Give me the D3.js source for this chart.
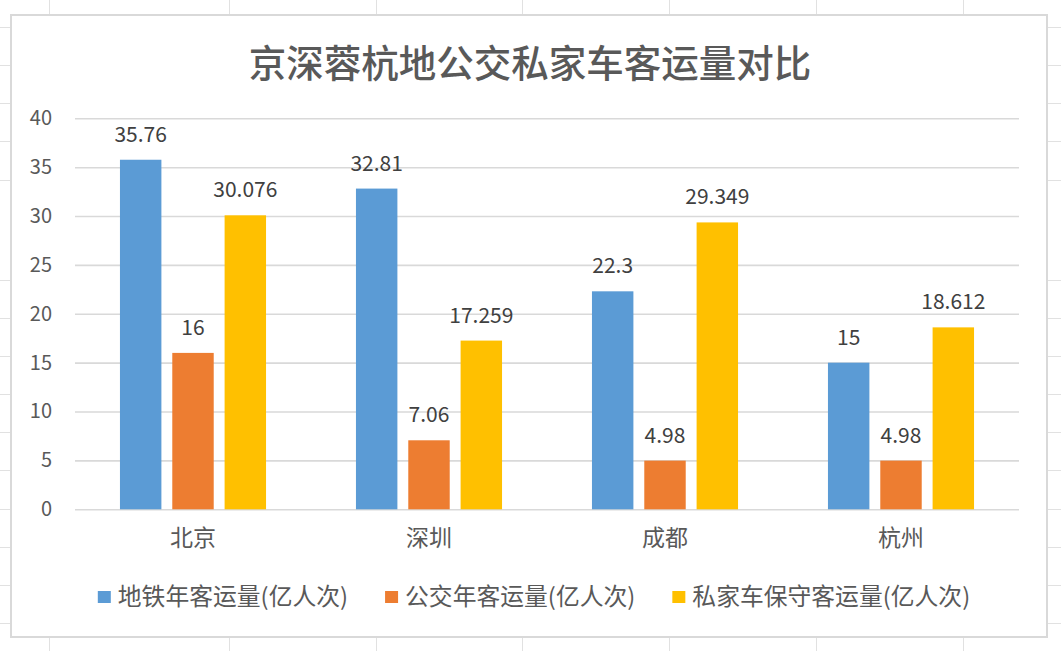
<!DOCTYPE html>
<html><head><meta charset="utf-8">
<script src="https://cdn.jsdelivr.net/npm/d3@7/dist/d3.min.js"></script>
<style>
html,body{margin:0;padding:0;background:#fff;}
svg{display:block;}
text{font-family:"Noto Sans CJK SC","Noto Sans",sans-serif;}
</style></head>
<body>
<svg id="c" width="1061" height="651"></svg>
<script>
const title = "京深蓉杭地公交私家车客运量对比";
const categories = ["北京","深圳","成都","杭州"];
const seriesNames = ["地铁年客运量(亿人次)","公交年客运量(亿人次)","私家车保守客运量(亿人次)"];
const metro = [35.76, 32.81, 22.3, 15];
const bus = [16, 7.06, 4.98, 4.98];
const privateCar = [30.076, 17.259, 29.349, 18.612];
const labelsMetro = ["35.76","32.81","22.3","15"];
const labelsBus = ["16","7.06","4.98","4.98"];
const labelsCar = ["30.076","17.259","29.349","18.612"];
const yTicks = [0,5,10,15,20,25,30,35,40];
const colors = ["#5B9BD5","#ED7D31","#FFC000"];

const sheetCols = [49,229,376,522,669,816,963];
const sheetRows = [27,65,103,141,180,280,318,356,394,432,470,509,547,585,623];

(function(){
const svg = d3.select("#c");
svg.append("g").selectAll("line").data(sheetCols).join("line")
  .attr("x1",d=>d+0.5).attr("x2",d=>d+0.5).attr("y1",0).attr("y2",651)
  .attr("stroke","#e1e1e1").attr("stroke-width",1);
svg.append("g").selectAll("line").data(sheetRows).join("line")
  .attr("y1",d=>d+0.5).attr("y2",d=>d+0.5).attr("x1",0).attr("x2",1061)
  .attr("stroke","#e1e1e1").attr("stroke-width",1);

svg.append("rect").attr("x",11).attr("y",15).attr("width",1036).attr("height",622)
  .attr("fill","#fff").attr("stroke","#d9d9d9").attr("stroke-width",2);

svg.append("text").attr("x",530).attr("y",77).attr("text-anchor","middle")
  .attr("font-size",37.5).attr("font-weight",500).attr("fill","#595959").text(title);

const pLeft=75, pRight=1019, pTop=118.3, pBottom=509.3;
const y = d3.scaleLinear().domain([0,40]).range([pBottom,pTop]);
const x0 = d3.scaleBand().domain(categories).range([pLeft,pRight]).paddingInner(0.381).paddingOuter(0.1905);
const x1 = d3.scaleBand().domain([0,1,2]).range([0,x0.bandwidth()]).paddingInner(0.208).paddingOuter(0);

const yAxis = d3.axisLeft(y).tickValues(yTicks).tickSize(-(pRight-pLeft)).tickPadding(23);
const ga = svg.append("g").attr("transform",`translate(${pLeft},0)`).call(yAxis);
ga.select(".domain").remove();
ga.selectAll(".tick line").attr("stroke","#d9d9d9").attr("stroke-width",1.6);
ga.selectAll(".tick text").attr("font-size",20).attr("fill","#595959")
  .attr("font-family",'"Noto Sans CJK SC","Noto Sans",sans-serif');

const xAxis = d3.axisBottom(x0).tickSize(0).tickPadding(20);
const gx = svg.append("g").attr("transform",`translate(0,${pBottom})`).call(xAxis);
gx.select(".domain").remove();
gx.selectAll(".tick text").attr("font-size",23).attr("fill","#595959")
  .attr("font-family",'"Noto Sans CJK SC","Noto Sans",sans-serif');

const series = [metro,bus,privateCar];
const seriesLabels = [labelsMetro,labelsBus,labelsCar];
const rows = [];
categories.forEach((c,i)=>{ series.forEach((s,j)=>rows.push({c,j,v:s[i],l:seriesLabels[j][i]})); });

const g = svg.append("g");
g.selectAll("rect").data(rows).join("rect")
  .attr("x",d=>x0(d.c)+x1(d.j)).attr("width",x1.bandwidth())
  .attr("y",d=>y(d.v)).attr("height",d=>pBottom-y(d.v))
  .attr("fill",d=>colors[d.j]);
g.selectAll("text").data(rows).join("text")
  .attr("x",d=>x0(d.c)+x1(d.j)+x1.bandwidth()/2).attr("y",d=>y(d.v)-18)
  .attr("text-anchor","middle").attr("font-size",21).attr("fill","#404040").text(d=>d.l);

const lg = svg.append("g");
const items = lg.selectAll("g").data(seriesNames).join("g");
items.append("rect").attr("width",13).attr("height",12).attr("y",-6).attr("fill",(d,i)=>colors[i]);
items.append("text").attr("x",20).attr("y",0).attr("dy","0.35em").attr("font-size",23.8)
  .attr("fill","#595959").text(d=>d);
let cx=0; const gapItem=37;
items.each(function(){ const w=this.getBBox().width; d3.select(this).attr("data-x",cx); cx+=w+gapItem; });
const total = cx-gapItem; const startX = 534-total/2;
items.attr("transform",function(){ return `translate(${startX+ +this.getAttribute("data-x")},597)`; });
})();
</script>
</body></html>
